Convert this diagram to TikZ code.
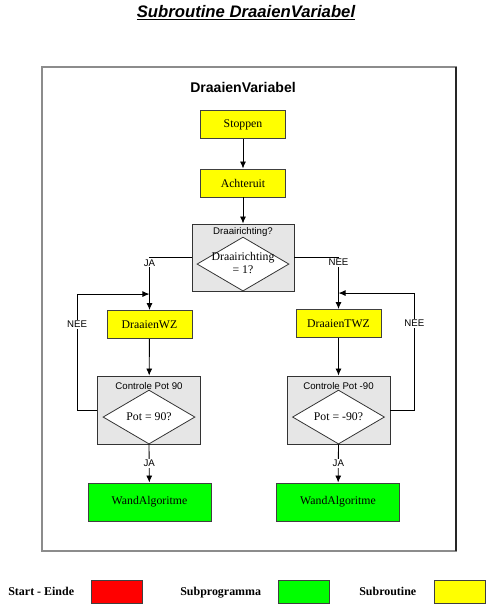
\documentclass[tikz,border=0pt]{standalone}
\usepackage{fontspec}
\setmainfont{Liberation Serif}
\setsansfont{Liberation Sans}
\usepackage{xcolor}
\definecolor{flowYellow}{HTML}{FFFF00}
\definecolor{flowGreen}{HTML}{00FF00}
\definecolor{flowRed}{HTML}{FF0000}
\definecolor{flowGray}{HTML}{E6E6E6}
\definecolor{flowEdge}{HTML}{404040}
\definecolor{flowFrame}{HTML}{8C8C8C}
\usetikzlibrary{positioning, shapes.geometric, arrows.meta}

\tikzset{
  boxtext/.style={font=\fontsize{6.7}{7.4}\selectfont},
  labeltext/.style={font=\sffamily\fontsize{5.5}{6.5}\selectfont},
  subroutine/.style={rectangle, draw=flowEdge, line width=0.5pt, fill=flowYellow, minimum width=1.7cm, minimum height=0.56cm, boxtext},
  subprogram/.style={rectangle, draw=flowEdge, line width=0.5pt, fill=flowGreen, minimum width=2.46cm, minimum height=0.76cm, boxtext},
  checkbox/.style={rectangle, draw=black!80, line width=0.5pt, fill=flowGray, minimum width=2.06cm, minimum height=1.36cm},
  decide/.style={diamond, draw=black!80, line width=0.45pt, fill=white, minimum width=1.84cm, minimum height=1.08cm, inner sep=0pt},
  flow/.style={draw=black, line width=0.5pt, -{Latex[length=4pt, width=3.4pt]}},
  answer/.style={labeltext, fill=white, inner sep=0.6pt},
  legendtext/.style={font=\bfseries\fontsize{6.8}{8}\selectfont, inner sep=0pt},
  legendbox/.style={rectangle, draw=flowEdge, line width=0.5pt, minimum width=1.02cm, minimum height=0.46cm},
}

\begin{document}
\begin{tikzpicture}[x=0.02cm, y=-0.02cm]
  \useasboundingbox (0,0) rectangle (500,613);
  % frame
  \draw[flowFrame, line width=0.9pt] (42,67) rectangle (456,551);
  \draw[black!85, line width=0.9pt] (456,67) -- (456,551);

  \node[font=\sffamily\bfseries\itshape\fontsize{9.5}{11}\selectfont] (title) at (246,13) {\underline{Subroutine DraaienVariabel}};
  \node[font=\sffamily\bfseries\fontsize{8}{10}\selectfont] (heading) at (243,87) {DraaienVariabel};

  % main column
  \node[subroutine] (stoppen) at (243,124.5) {Stoppen};
  \node[subroutine] (achteruit) at (243,183) {Achteruit};
  \node[checkbox, minimum width=2.04cm, minimum height=1.34cm] (dirbox) at (243,257.5) {};
  \node[labeltext, inner sep=0pt, anchor=north, below=0.07cm of dirbox.north] (dirlbl) {Draairichting?};
  \node[decide, anchor=south] (dirdia) at (dirbox.south) {};
  \node[boxtext, align=center, inner sep=0pt] (dirtxt) at ([yshift=0.02cm]dirdia.center) {Draairichting\\= 1?};

  % left branch
  \node[subroutine] (wz) at (149.5,324.5) {DraaienWZ};
  \coordinate[above=0.32cm of wz.north] (wzjoin);
  \node[checkbox] (potbox) at (149,410) {};
  \node[labeltext, inner sep=0pt, anchor=north, below=0.13cm of potbox.north] (potlbl) {Controle Pot 90};
  \node[decide, anchor=south] (potdia) at (potbox.south) {};
  \node[boxtext, inner sep=0pt] (pottxt) at (potdia.center) {Pot = 90?};
  \node[subprogram] (wandl) at (149.5,502) {WandAlgoritme};

  % right branch
  \node[subroutine] (twz) at (338.5,323.5) {DraaienTWZ};
  \coordinate[above=0.32cm of twz.north] (twzjoin);
  \node[checkbox] (potboxr) at (338.5,410) {};
  \node[labeltext, inner sep=0pt, anchor=north, below=0.13cm of potboxr.north] (potlblr) {Controle Pot -90};
  \node[decide, anchor=south] (potdiar) at (potboxr.south) {};
  \node[boxtext, inner sep=0pt] (pottxtr) at (potdiar.center) {Pot = -90?};
  \node[subprogram] (wandr) at (338,502) {WandAlgoritme};

  % connectors
  \draw[flow] (stoppen) -- (achteruit);
  \draw[flow] (achteruit) -- (dirbox);
  \draw[flow] (dirbox.west) -| node[answer, pos=0.55] {JA} (wz.north);
  \draw[flow] (dirbox.east) -| node[answer, pos=0.55] {NEE} (twz.north);
  \draw[flow] (wz) -- (potbox);
  \draw[flow] (twz) -- (potboxr);
  \draw[flow] (potbox.west) -- ++(-20,0) |- node[answer, pos=0.37] {NEE} (wzjoin);
  \draw[flow] (potboxr.east) -- ++(24,0) |- node[answer, pos=0.37] {NEE} (twzjoin);
  \draw[flow] (potdia.south) -- node[answer] {JA} (wandl);
  \draw[flow] (potdiar.south) -- node[answer] {JA} (wandr);

  % legend
  \node[legendtext, anchor=base west] (legstart) at (8,595) {Start - Einde};
  \node[legendbox, fill=flowRed] (legred) at (116.5,591.5) {};
  \node[legendtext, anchor=base west] (legsub) at (180,595) {Subprogramma};
  \node[legendbox, fill=flowGreen] (leggreen) at (303.5,591.5) {};
  \node[legendtext, anchor=base west] (legrout) at (359,595) {Subroutine};
  \node[legendbox, fill=flowYellow] (legyellow) at (459.5,591.5) {};
\end{tikzpicture}
\end{document}
